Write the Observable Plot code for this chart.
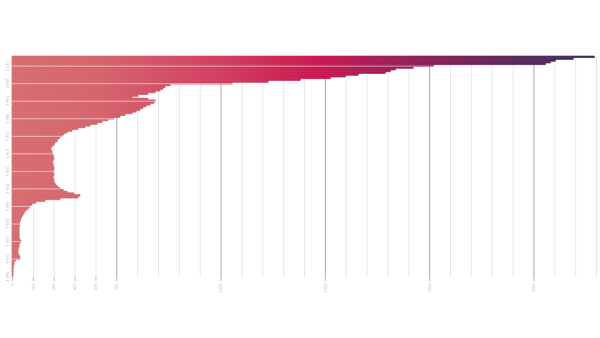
<!DOCTYPE html>
<html><head><meta charset="utf-8">
<script src="https://cdn.jsdelivr.net/npm/d3@7"></script>
<script src="https://cdn.jsdelivr.net/npm/@observablehq/plot@0.6"></script>
<style>body{margin:0;background:#fff;} svg{display:block;background:#fff}</style>
</head><body><div id="chart"></div>
<script>
const startYear = 1890;
const endYear = 2015;
// one value per year, 1890 .. 2015
const values = [
  5, 5, 5, 5, 5, 7, 7, 10, 10, 17,
  38, 38, 34, 29, 29, 29, 31, 34, 34, 38,
  43, 38, 34, 34, 34, 34, 34, 34, 34, 36,
  36, 38, 41, 43, 48, 53, 58, 62, 72, 82,
  86, 96, 115, 158, 230, 316, 326, 297, 264, 245,
  230, 220, 211, 206, 201, 201, 197, 197, 201, 197,
  197, 201, 201, 197, 197, 192, 197, 201, 197, 197,
  192, 192, 187, 187, 192, 201, 206, 216, 220, 230,
  240, 249, 264, 288, 316, 350, 374, 408, 432, 460,
  489, 518, 542, 576, 595, 614, 628, 643, 662, 681,
  686, 652, 576, 604, 652, 686, 710, 724, 734, 758,
  1055, 1228, 1382, 1526, 1598, 1660, 1790, 1814, 1838, 1924,
  2020, 2557, 2581, 2605, 2691, 2792
];
const yearLabels = [1890, 1900, 1910, 1920, 1930, 1940, 1950, 1960, 1970, 1980, 1990, 2000, 2010];
const xTickValues = [0, 100, 200, 300, 400, 500, 1000, 1500, 2000, 2500];
const minorGrid = [100, 200, 300, 400, 600, 700, 800, 900, 1100, 1200, 1300, 1400, 1600, 1700, 1800, 1900, 2100, 2200, 2300, 2400, 2600, 2700, 2800];
const majorGrid = [500, 1000, 1500, 2000, 2500];
const gradientStops = [
  [0, "#d66b70"], [0.15, "#d5626b"], [0.35, "#d03e5f"], [0.52, "#c8174f"],
  [0.7, "#8c1f57"], [0.85, "#5a2759"], [1, "#3b2c5c"]
];

const years = d3.range(startYear, endYear + 1);
const data = years.map((y, i) => ({year: y, value: values[i]}));
const decadeData = data.filter(d => yearLabels.includes(d.year));

const W = 600, H = 338, mL = 12, mR = 4, mT = 56, mB = 61;

const chart = Plot.plot({
  width: W, height: H,
  marginTop: mT, marginBottom: mB, marginLeft: mL, marginRight: mR,
  style: {fontFamily: "Roboto, sans-serif", background: "#fff"},
  x: {domain: [0, 2800], label: null},
  y: {type: "band", domain: years.slice().reverse(), padding: 0, axis: null, label: null},
  marks: [
    Plot.ruleX(minorGrid, {stroke: "#e8e8e8", strokeWidth: 1}),
    Plot.ruleX(majorGrid, {stroke: "#a8a8a8", strokeWidth: 1}),
    Plot.barX(data, {y: "year", x: "value", fill: "url(#barGrad)", stroke: "url(#barGrad)", strokeWidth: 0.6, inset: 0}),
    Plot.ruleY(decadeData, {y: "year", x1: 0, x2: "value", stroke: "#fff", strokeOpacity: 0.55, strokeWidth: 1}),
    Plot.axisX(xTickValues, {tickSize: 4, tickRotate: -90, fontSize: 4, stroke: "#bbb", fill: "#bdbdbd", tickPadding: 2, label: null, tickFormat: d => String(d)}),
    Plot.axisY(yearLabels, {tickSize: 0, tickRotate: -90, fontSize: 4, fill: "#bdbdbd", tickPadding: 4, label: null})
  ]
});

const ns = "http://www.w3.org/2000/svg";
const defs = document.createElementNS(ns, "defs");
const grad = document.createElementNS(ns, "linearGradient");
grad.setAttribute("id", "barGrad");
grad.setAttribute("gradientUnits", "userSpaceOnUse");
grad.setAttribute("x1", mL);
grad.setAttribute("x2", W - mR);
grad.setAttribute("y1", 0);
grad.setAttribute("y2", 0);
for (const [o, c] of gradientStops) {
  const s = document.createElementNS(ns, "stop");
  s.setAttribute("offset", o);
  s.setAttribute("stop-color", c);
  grad.appendChild(s);
}
defs.appendChild(grad);
chart.insertBefore(defs, chart.firstChild);
document.getElementById("chart").appendChild(chart);
</script>
</body></html>
